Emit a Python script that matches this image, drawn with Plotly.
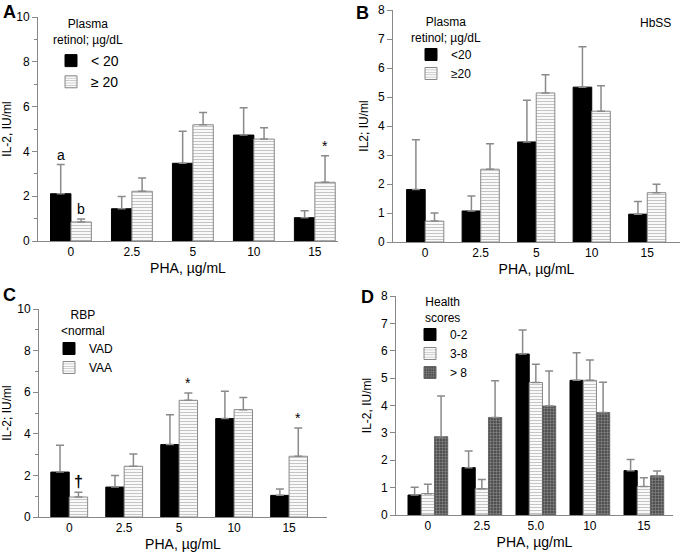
import plotly.graph_objects as go

FONT = "Arial, 'Liberation Sans', sans-serif"

# tick labels (PHA dose, ug/mL)
PHA_ABC = ["0", "2.5", "5", "10", "15"]
PHA_D = ["0", "2.5", "5.0", "10", "15"]

# A: plasma retinol groups
a_low = [2.11, 1.44, 3.47, 4.73, 1.04]
a_low_se = [1.30, 0.55, 1.43, 1.22, 0.31]
a_high = [0.85, 2.22, 5.19, 4.55, 2.62]
a_high_se = [0.13, 0.59, 0.55, 0.51, 1.19]

# B: HbSS, plasma retinol groups
b_low = [1.81, 1.07, 3.45, 5.34, 0.96]
b_low_se = [1.72, 0.52, 1.44, 1.39, 0.44]
b_high = [0.72, 2.51, 5.14, 4.51, 1.70]
b_high_se = [0.28, 0.88, 0.63, 0.88, 0.29]

# C: RBP < normal
c_vad = [2.16, 1.44, 3.48, 4.73, 1.04]
c_vad_se = [1.29, 0.55, 1.44, 1.31, 0.31]
c_vaa = [0.96, 2.44, 5.61, 5.16, 2.92]
c_vaa_se = [0.23, 0.59, 0.35, 0.59, 1.36]

# D: health scores
d_low = [0.73, 1.73, 5.88, 4.92, 1.62]
d_low_se = [0.28, 0.61, 0.88, 1.01, 0.41]
d_mid = [0.78, 0.96, 4.84, 4.92, 1.04]
d_mid_se = [0.34, 0.34, 0.67, 0.74, 0.32]
d_high = [2.86, 3.56, 3.98, 3.74, 1.43]
d_high_se = [1.49, 1.34, 1.28, 1.11, 0.18]

pos = list(range(len(PHA_ABC)))

SOLID = dict(color="black", line=dict(color="black", width=1))
HATCH = dict(color="white", line=dict(color="#888", width=1),
             pattern=dict(shape="-", fgcolor="#8c8c8c", bgcolor="white", size=3, solidity=0.4))
DOTS = dict(color="#777", line=dict(color="#666", width=1),
            pattern=dict(shape="+", fgcolor="#cfcfcf", bgcolor="#505050", size=3, solidity=0.3))


def bar(vals, se, name, marker, w, off, n):
    ax = "" if n == 1 else str(n)
    return go.Bar(x=pos, y=vals, name=name, width=w, offset=off, marker=marker,
                  error_y=dict(type="data", array=se, arrayminus=[0] * len(se), symmetric=False,
                               color="#8a8a8a", thickness=1.5, width=4),
                  xaxis="x" + ax, yaxis="y" + ax, legend="legend" + ax)


fig = go.Figure()
w2 = 0.335
fig.add_trace(bar(a_low, a_low_se, "< 20", SOLID, w2, -w2, 1))
fig.add_trace(bar(a_high, a_high_se, "\u2265 20", HATCH, w2, 0, 1))
fig.add_trace(bar(b_low, b_low_se, "<20", SOLID, w2, -w2, 2))
fig.add_trace(bar(b_high, b_high_se, "\u226520", HATCH, w2, 0, 2))
fig.add_trace(bar(c_vad, c_vad_se, "VAD", SOLID, w2, -w2, 3))
fig.add_trace(bar(c_vaa, c_vaa_se, "VAA", HATCH, w2, 0, 3))
w3 = 0.245
fig.add_trace(bar(d_low, d_low_se, "0-2", SOLID, w3, -1.5 * w3, 4))
fig.add_trace(bar(d_mid, d_mid_se, "3-8", HATCH, w3, -0.5 * w3, 4))
fig.add_trace(bar(d_high, d_high_se, "> 8", DOTS, w3, 0.5 * w3, 4))


def xax(dom, rng, labels, title):
    return dict(domain=dom, range=rng, tickvals=pos, ticktext=labels, showline=True,
                linecolor="#888", linewidth=1, ticks="", showgrid=False, zeroline=False,
                automargin=False, tickfont=dict(size=12, color="black"),
                title=dict(text=title, font=dict(size=14, color="black"), standoff=4))


def yax(dom, top, dtick, minor, title):
    d = dict(domain=dom, range=[0, top], dtick=dtick, showline=True, linecolor="#888",
             linewidth=1, ticks="outside", ticklen=5, tickcolor="#888", showgrid=False,
             zeroline=False, automargin=False, tickfont=dict(size=12, color="black"),
             title=dict(text=title, font=dict(size=12, color="black"), standoff=6))
    if minor:
        d["minor"] = dict(dtick=minor, ticks="outside", ticklen=3, tickcolor="#888")
    return d


def leg(x, y, size):
    return dict(x=x, y=y, xanchor="left", yanchor="top", bgcolor="rgba(0,0,0,0)",
                font=dict(size=size, color="black"), tracegroupgap=0)


W, H = 680, 557
fig.update_layout(
    width=W, height=H, barmode="overlay", showlegend=True,
    paper_bgcolor="white", plot_bgcolor="white",
    margin=dict(l=0, r=0, t=0, b=0, autoexpand=False),
    font=dict(family=FONT, color="black"),
    xaxis=xax([38 / W, 338 / W], [-0.54, 4.38], PHA_ABC, "PHA, \u00b5g/mL"),
    yaxis=yax([1 - 241 / H, 1 - 17 / H], 10, 2, 1, "IL-2, IU/ml"),
    xaxis2=xax([393 / W, 680 / W], [-0.58, 4.59], PHA_ABC, "PHA, \u00b5g/mL"),
    yaxis2=yax([1 - 242 / H, 1 - 10 / H], 8, 1, None, "IL2; IU/ml"),
    xaxis3=xax([39 / W, 327 / W], [-0.55, 4.69], PHA_ABC, "PHA, \u00b5g/mL"),
    yaxis3=yax([1 - 517 / H, 1 - 309 / H], 10, 2, 1, "IL-2; IU/ml"),
    xaxis4=xax([396 / W, 673 / W], [-0.59, 4.54], PHA_D, "PHA, \u00b5g/mL"),
    yaxis4=yax([1 - 515 / H, 1 - 296 / H], 8, 1, None, "IL-2, IU/ml"),
    legend=leg(51 / W, 1 - 45 / H, 14),
    legend2=leg(411 / W, 1 - 40 / H, 12),
    legend3=leg(49 / W, 1 - 334 / H, 12),
    legend4=leg(410 / W, 1 - 320 / H, 12),
)
for ax in ["xaxis", "xaxis2", "xaxis3", "xaxis4"]:
    fig.layout[ax].anchor = ax.replace("xaxis", "y")
for ax in ["yaxis", "yaxis2", "yaxis3", "yaxis4"]:
    fig.layout[ax].anchor = ax.replace("yaxis", "x")

# panel letters, legend titles, panel note
texts = [("<b>A</b>", 9, 12, 18), ("<b>B</b>", 362, 13, 18), ("<b>C</b>", 9, 295, 18),
         ("<b>D</b>", 367, 297, 18), ("HbSS", 655, 23, 12),
         ("Plasma<br>retinol; \u00b5g/dL", 88, 32, 12),
         ("Plasma<br>retinol; \u00b5g/dL", 446, 30, 12),
         ("RBP<br>&lt;normal", 83, 323, 12),
         ("Health<br>scores", 442, 310, 12)]
for t, x, y, sz in texts:
    fig.add_annotation(text=t, x=x / W, y=1 - y / H, xref="paper", yref="paper",
                       xanchor="center", yanchor="middle", align="center",
                       showarrow=False, font=dict(size=sz, color="black"))

# significance marks
marks = [("a", "", 0, -w2, a_low, a_low_se, 14), ("b", "", 0, 0, a_high, a_high_se, 14),
         ("*", "", 4, 0, a_high, a_high_se, 14),
         ("<b>\u2020</b>", "3", 0, 0, c_vaa, c_vaa_se, 16),
         ("*", "3", 2, 0, c_vaa, c_vaa_se, 14), ("*", "3", 4, 0, c_vaa, c_vaa_se, 14)]
for txt, ax, i, off, vals, se, sz in marks:
    fig.add_annotation(text=txt, x=pos[i] + off + w2 / 2, y=vals[i] + se[i], xref="x" + ax,
                       yref="y" + ax, yanchor="bottom", showarrow=False,
                       font=dict(size=sz, color="black"))

# page body has a default 8px margin; drop it so the figure fills the window
fig.write_html("out.html", config={"displayModeBar": False},
               post_script="document.body.style.margin='0';")
